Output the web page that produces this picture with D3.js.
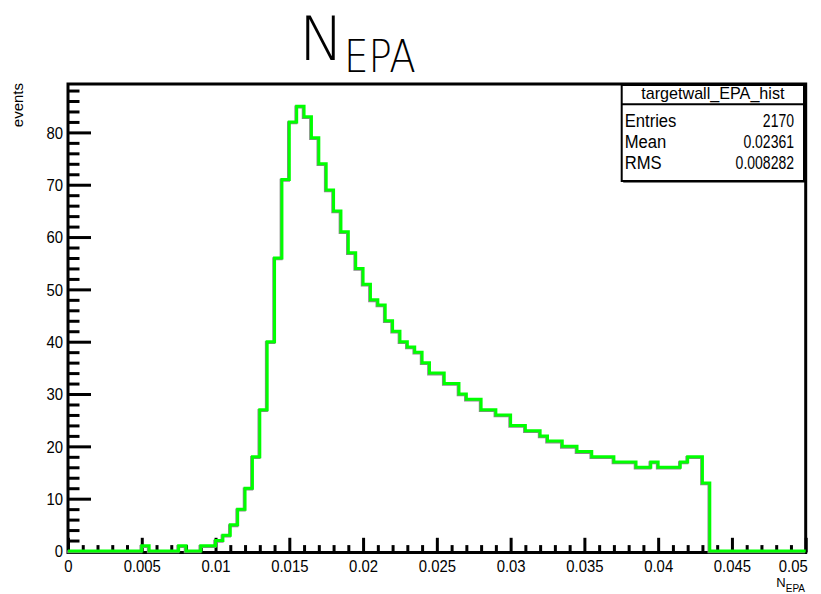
<!DOCTYPE html>
<html>
<head>
<meta charset="utf-8">
<script src="https://cdn.jsdelivr.net/npm/d3@7"></script>
<style>
  body { margin: 0; background: #fff; }
  svg { display: block; }
  text { font-family: "Liberation Sans", Arial, sans-serif; }
</style>
</head>
<body>
<div class="container"></div>
<script>

// histogram contents, 100 bins from 0 to 0.05
const xMin = 0;
const xMax = 0.05;
const binCounts = [
  0, 0, 0, 0, 0, 0, 0, 0, 0, 0,
  1, 0, 0, 0, 0, 1, 0, 0, 1, 1,
  2, 3, 5, 8, 12, 18, 27, 40, 56, 71,
  82, 85, 83, 79, 74, 69, 65, 61, 57, 54,
  51, 48, 47, 44, 42, 40, 39, 38, 36, 34,
  34, 32, 32, 30, 29, 29, 27, 27, 26, 26,
  24, 24, 23, 23, 22, 21, 21, 20, 20, 19,
  19, 18, 18, 18, 17, 17, 17, 16, 16, 17,
  16, 16, 16, 17, 18, 18, 13, 0, 0, 0,
  0, 0, 0, 0, 0, 0, 0, 0, 0, 0
];

const xMajorTicks = [0, 0.005, 0.01, 0.015, 0.02, 0.025, 0.03, 0.035, 0.04, 0.045, 0.05];
const xTickLabels = ['0', '0.005', '0.01', '0.015', '0.02', '0.025', '0.03', '0.035', '0.04', '0.045', '0.05'];
const yMajorTicks = [0, 10, 20, 30, 40, 50, 60, 70, 80];

const statTitle = 'targetwall_EPA_hist';
const statLabels = ['Entries', 'Mean', 'RMS'];
const statValues = ['2170', '0.02361', '0.008282'];

const width = 821;
const height = 594;
const frame = { left: 68, right: 805.7, top: 84, bottom: 551 };

const nBins = binCounts.length;
const binWidth = (xMax - xMin) / nBins;
const yMax = d3.max(binCounts) * 1.05;

const xScale = d3.scaleLinear().domain([xMin, xMax]).range([frame.left, frame.right]);
const yScale = d3.scaleLinear().domain([0, yMax]).range([frame.bottom, frame.top]);

const svg = d3.select('.container')
  .append('svg')
  .attr('width', width)
  .attr('height', height);

// squeeze text a bit, ROOT helvetica looks narrower
const condense = (sel, f) => sel.each(function () {
  const w = this.getComputedTextLength();
  d3.select(this).attr('textLength', w * f).attr('lengthAdjust', 'spacingAndGlyphs');
});

// minor ticks
const xMinor = d3.range(0, 51).map(i => i * 0.001).filter(v => !xMajorTicks.some(m => Math.abs(m - v) < 1e-9));
const yMinor = d3.range(0, 45).map(i => i * 2).filter(v => v % 10 !== 0 && v < yMax);

const xAxis = svg.append('g')
  .attr('transform', `translate(0,${frame.bottom + 1.5})`)
  .call(d3.axisBottom(xScale).tickValues(xMajorTicks).tickSize(-14.7).tickSizeOuter(0)
    .tickFormat((d, i) => xTickLabels[i]));
svg.append('g')
  .attr('transform', `translate(0,${frame.bottom + 1.5})`)
  .call(d3.axisBottom(xScale).tickValues(xMinor).tickSize(-7.4).tickSizeOuter(0).tickFormat(''));

const yAxis = svg.append('g')
  .attr('transform', `translate(${frame.left},0)`)
  .call(d3.axisLeft(yScale).tickValues(yMajorTicks).tickSize(-23).tickSizeOuter(0));
svg.append('g')
  .attr('transform', `translate(${frame.left},0)`)
  .call(d3.axisLeft(yScale).tickValues(yMinor).tickSize(-11.5).tickSizeOuter(0).tickFormat(''));

svg.selectAll('.domain').remove();
svg.selectAll('.tick line').attr('stroke', '#000').attr('stroke-width', 3);

xAxis.selectAll('text')
  .attr('y', 19.5)
  .attr('dy', 0)
  .attr('fill', '#000')
  .style('font-size', '16px')
  .call(condense, 0.93);

// last label is pulled in so it stays inside the canvas
xAxis.selectAll('text')
  .filter((d, i) => i === xMajorTicks.length - 1)
  .attr('text-anchor', 'end')
  .attr('x', 1.5);

yAxis.selectAll('.tick text')
  .attr('x', -5)
  .attr('dy', '0.36em')
  .attr('fill', '#000')
  .style('font-size', '16px')
  .call(condense, 0.93);

// frame
svg.append('rect')
  .attr('x', frame.left)
  .attr('y', frame.top)
  .attr('width', frame.right - frame.left)
  .attr('height', frame.bottom + 1.5 - frame.top)
  .attr('fill', 'none')
  .attr('stroke', '#000')
  .attr('stroke-width', 3);

// histogram outline
const steps = binCounts.map((c, i) => [xMin + i * binWidth, c]);
steps.unshift([xMin, 0]);
steps.push([xMax, binCounts[nBins - 1]]);
steps.push([xMax, 0]);

const line = d3.line()
  .x(d => xScale(d[0]))
  .y(d => yScale(d[1]))
  .curve(d3.curveStepAfter);

svg.append('path')
  .attr('d', line(steps))
  .attr('fill', 'none')
  .attr('stroke', '#8a8a8a')
  .attr('stroke-width', 3)
  .attr('transform', 'translate(-0.8,0.8)');

svg.append('path')
  .attr('d', line(steps))
  .attr('fill', 'none')
  .attr('stroke', '#00ff00')
  .attr('stroke-width', 3);

// stats box
const box = { x: 621.7, y: 85, w: 182.3, h: 96, head: 19.3, row: 21 };
svg.append('rect')
  .attr('x', box.x + 1.5)
  .attr('y', box.y + 1.5)
  .attr('width', box.w)
  .attr('height', box.h)
  .attr('fill', '#000');
svg.append('rect')
  .attr('x', box.x)
  .attr('y', box.y)
  .attr('width', box.w)
  .attr('height', box.h)
  .attr('fill', '#fff')
  .attr('stroke', '#000')
  .attr('stroke-width', 2);
svg.append('line')
  .attr('x1', box.x)
  .attr('x2', box.x + box.w)
  .attr('y1', box.y + box.head)
  .attr('y2', box.y + box.head)
  .attr('stroke', '#000')
  .attr('stroke-width', 2);

svg.append('text')
  .attr('x', box.x + box.w / 2)
  .attr('y', box.y + 13.5)
  .attr('text-anchor', 'middle')
  .style('font-size', '17px')
  .text(statTitle)
  .call(condense, 0.95);

svg.selectAll('.stat-label')
  .data(statLabels)
  .enter()
  .append('text')
  .attr('class', 'stat-label')
  .attr('x', box.x + 3)
  .attr('y', (d, i) => box.y + 42 + i * box.row)
  .style('font-size', '17.5px')
  .text(d => d)
  .call(condense, 0.95);

svg.selectAll('.stat-value')
  .data(statValues)
  .enter()
  .append('text')
  .attr('class', 'stat-value')
  .attr('x', box.x + box.w - 10)
  .attr('y', (d, i) => box.y + 42 + i * box.row)
  .attr('text-anchor', 'end')
  .style('font-size', '17.5px')
  .text(d => d)
  .call(condense, 0.8);

// titles
const title = svg.append('text')
  .attr('x', 299)
  .attr('y', 60)
  .style('font-family', '"DejaVu Sans", sans-serif')
  .style('font-weight', 200)
  .style('font-size', '60px');
title.append('tspan').text('N');
const sub = title.append('tspan').attr('dy', 12).style('font-size', '45px').text('EPA');
sub.attr('textLength', 72).attr('lengthAdjust', 'spacingAndGlyphs');

const xTitle = svg.append('text')
  .attr('x', 805)
  .attr('y', 586.5)
  .attr('text-anchor', 'end')
  .style('font-size', '13px');
xTitle.append('tspan').text('N');
xTitle.append('tspan').attr('dy', 5).style('font-size', '10px').text('EPA');

svg.append('text')
  .attr('transform', `translate(22.5,${frame.top - 1}) rotate(-90)`)
  .attr('text-anchor', 'end')
  .style('font-size', '15px')
  .text('events');

</script>
</body>
</html>
